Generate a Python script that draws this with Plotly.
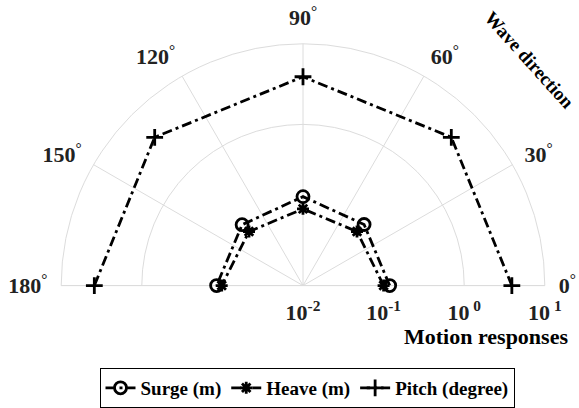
import plotly.graph_objects as go

# Wave directions (degrees)
directions = [0, 45, 90, 135, 180]

# Motion responses per wave direction
surge_m = [0.119, 0.118, 0.127, 0.117, 0.118]
heave_m = [0.100, 0.0886, 0.0895, 0.0886, 0.102]
pitch_deg = [3.90, 4.0, 3.90, 4.0, 3.88]

# Axis ticks
angle_ticks = [0, 30, 60, 90, 120, 150, 180]
angle_labels = [f"{a}<sup>°</sup>" for a in angle_ticks]
radial_ticks = [0.01, 0.1, 1, 10]
radial_labels = ["10<sup>-2</sup>", "10<sup>-1</sup>", "10<sup> 0</sup>", "10<sup> 1</sup>"]
grid_circles = [1, 10]

FONT = "Liberation Serif, Times New Roman, serif"
GRID = "#dcdcdc"
DASH = "10px,4px,3px,4px"

fig = go.Figure()

# Empty trace so the background polar (grid) subplot is rendered
fig.add_trace(go.Scatterpolar(r=[], theta=[], subplot="polar",
                              showlegend=False, hoverinfo="skip"))

series = [
    ("Surge (m)", surge_m, "circle-open", 12),
    ("Heave (m)", heave_m, "asterisk-open", 10),
    ("Pitch (degree)", pitch_deg, "cross-thin-open", 12),
]
for name, vals, sym, size in series:
    fig.add_trace(go.Scatterpolar(
        r=vals, theta=directions, name=name, subplot="polar2",
        mode="lines+markers",
        line=dict(color="black", width=2.8, dash=DASH),
        marker=dict(symbol=sym, size=size, color="black",
                    line=dict(color="black", width=2.8)),
    ))

dom_x = [60 / 579, 546 / 579]
dom_y = [1 - 287 / 408, 1 - 44 / 408]

# Background polar: grid circles, spokes, outer arc and angle labels
fig.update_layout(polar=dict(
    domain=dict(x=dom_x, y=dom_y), sector=[0, 180], bgcolor="rgba(0,0,0,0)",
    radialaxis=dict(type="log", range=[-2, 1], tickvals=grid_circles,
                    showticklabels=False, ticks="", showline=False,
                    gridcolor=GRID, gridwidth=1),
    angularaxis=dict(direction="counterclockwise", rotation=0, thetaunit="degrees",
                     tickvals=angle_ticks, ticktext=angle_labels,
                     showline=True, linecolor=GRID, linewidth=1,
                     ticks="outside", ticklen=9, tickcolor="rgba(0,0,0,0)",
                     showgrid=True, gridcolor=GRID, gridwidth=1,
                     tickfont=dict(family=FONT, size=22, color="#222", weight="bold")),
))

# Foreground polar: data and radial tick labels
fig.update_layout(polar2=dict(
    domain=dict(x=dom_x, y=dom_y), sector=[0, 180], bgcolor="rgba(0,0,0,0)",
    radialaxis=dict(type="log", range=[-2, 1], tickvals=radial_ticks,
                    ticktext=radial_labels, showgrid=False, showline=False,
                    ticks="outside", ticklen=8, tickcolor="rgba(0,0,0,0)",
                    angle=0, side="clockwise",
                    tickfont=dict(family=FONT, size=22, color="#222", weight="bold")),
    angularaxis=dict(direction="counterclockwise", rotation=0, thetaunit="degrees",
                     showgrid=False, showline=False, showticklabels=False, ticks=""),
))

fig.add_annotation(
    text="Motion responses", xref="paper", yref="paper",
    x=486 / 579, y=1 - 338 / 408, xanchor="center", yanchor="middle",
    showarrow=False, font=dict(family=FONT, size=22, color="black", weight="bold"),
)
fig.add_annotation(
    text="Wave direction", xref="paper", yref="paper",
    x=529 / 579, y=1 - 60 / 408, xanchor="center", yanchor="middle",
    textangle=48, showarrow=False,
    font=dict(family=FONT, size=19, color="black", weight="bold"),
)

fig.update_layout(
    width=579, height=408, margin=dict(l=0, r=0, t=0, b=0),
    paper_bgcolor="white", plot_bgcolor="white",
    legend=dict(orientation="h", x=307 / 579, y=1 - 370 / 408,
                xanchor="center", yanchor="top",
                bordercolor="black", borderwidth=1, bgcolor="white",
                font=dict(family=FONT, size=19, color="black", weight="bold"),
                itemwidth=30, tracegroupgap=0),
)

fig.write_html("out.html")
